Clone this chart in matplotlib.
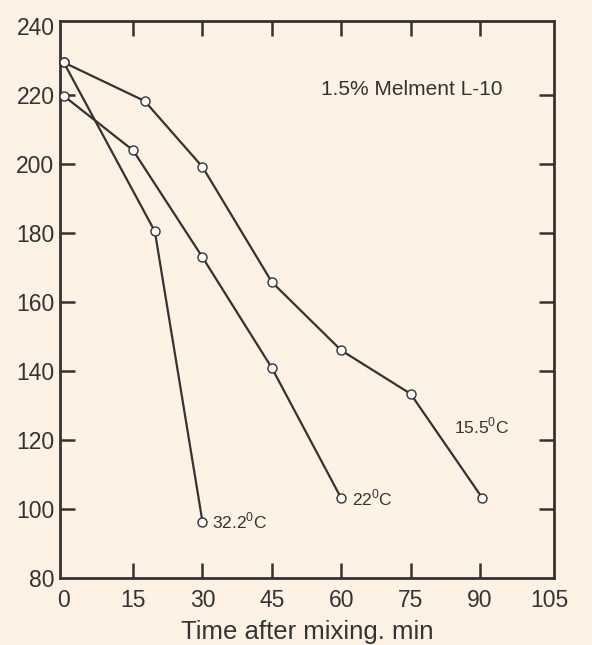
"""
Slump loss vs time after mixing, 1.5% Melment L-10.
"""

import matplotlib.pyplot as plt

# ── Data ──────────────────────────────────────────────────────────────────────
t_155 = [0, 17.5, 30, 45, 60, 75, 90.5]
s_155 = [229.5, 218.3, 199.2, 165.8, 146.0, 133.4, 103.2]

t_22 = [0, 15, 30, 45, 60]
s_22 = [219.8, 204.0, 173.0, 140.9, 103.1]

t_322 = [0, 19.7, 30]
s_322 = [229.5, 180.5, 96.3]

x_ticks = [0, 15, 30, 45, 60, 75, 90, 105]
y_ticks = [80, 100, 120, 140, 160, 180, 200, 220, 240]

# ── Plot settings ─────────────────────────────────────────────────────────────
bg = '#fdf2e3'
ink = '#333333'
plt.rcParams['font.family'] = ['Liberation Sans', 'DejaVu Sans']
plt.rcParams['mathtext.fontset'] = 'custom'
plt.rcParams['mathtext.rm'] = 'Liberation Sans'

fig = plt.figure(figsize=(5.92, 6.45), dpi=100, facecolor=bg)
ax = fig.add_axes([0.1014, 0.1039, 0.8344, 0.8635], facecolor=bg)

for t, s in [(t_155, s_155), (t_22, s_22), (t_322, s_322)]:
    ax.plot(t, s, color=ink, linewidth=1.6, marker='o', markersize=6.5,
            markerfacecolor='white', markeredgecolor=ink, markeredgewidth=1.0,
            clip_on=False, zorder=3)

ax.set_xlim(-0.8, 106)
ax.set_ylim(80, 241.5)
ax.set_xticks(x_ticks)
ax.set_yticks(y_ticks)
ax.tick_params(direction='in', length=11, width=1.8, colors=ink,
               labelsize=16.5, top=True, right=True,
               labeltop=False, labelright=False)
ax.tick_params(axis='x', pad=8)
ax.tick_params(axis='y', pad=4)

# no tick marks in the corners, only the labels
for axis in (ax.xaxis, ax.yaxis):
    ticks = axis.get_major_ticks()
    for tk in (ticks[0], ticks[-1]):
        tk.tick1line.set_visible(False)
        tk.tick2line.set_visible(False)

for sp in ax.spines.values():
    sp.set_color(ink)
    sp.set_linewidth(2.0)

ax.set_xlabel('Time after mixing. min', fontsize=18.5, color=ink, labelpad=6)

ax.text(75.2, 221.6, '1.5% Melment L-10', fontsize=15, color=ink,
        ha='center', va='center')
ax.text(90.4, 123.9, r'15.5$^{\rm 0}$C', fontsize=12.5, color=ink,
        ha='center', va='center')
ax.text(62.3, 103.2, r'22$^{\rm 0}$C', fontsize=12.5, color=ink,
        ha='left', va='center')
ax.text(32.0, 96.4, r'32.2$^{\rm 0}$C', fontsize=12.5, color=ink,
        ha='left', va='center')

fig.savefig('out.png', dpi=100, facecolor=bg)
